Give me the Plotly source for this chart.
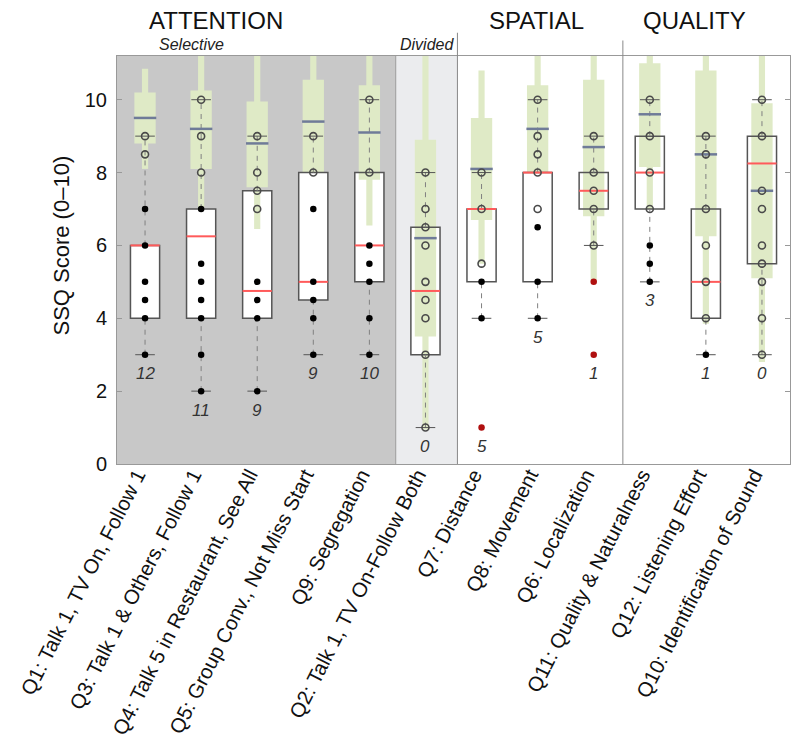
import plotly.graph_objects as go

categories = [
    "Q1: Talk 1, TV On, Follow 1",
    "Q3: Talk 1 & Others, Follow 1",
    "Q4: Talk 5 in Restaurant, See All",
    "Q5: Group Conv., Not Miss Start",
    "Q9: Segregation",
    "Q2: Talk 1, TV On-Follow Both",
    "Q7: Distance",
    "Q8: Movement",
    "Q6: Localization",
    "Q11: Quality & Naturalness",
    "Q12: Listening Effort",
    "Q10: Identificaiton of Sound",
]

# normative (green) distributions
norm_lo = [8.1, 7.05, 6.45, 8.0, 6.55, 0.95, 5.5, 8.0, 5.0, 7.0, 3.85, 2.8]
norm_q1 = [8.8, 8.1, 7.6, 8.0, 7.8, 3.5, 6.7, 8.0, 6.8, 8.15, 6.25, 5.1]
norm_med = [9.5, 9.2, 8.8, 9.4, 9.1, 6.2, 8.1, 9.2, 8.7, 9.6, 8.5, 7.5]
norm_q3 = [10.2, 10.25, 9.95, 10.55, 10.4, 8.9, 9.5, 10.4, 10.55, 11.0, 10.8, 9.9]
norm_hi = [10.85, 12, 12, 12, 12, 12, 10.8, 12, 12, 12, 12, 12]

# patient boxes
p_q1 = [4, 4, 4, 4.5, 5, 3, 5, 5, 7, 7, 4, 5.5]
p_med = [6, 6.25, 4.75, 5, 6, 4.75, 7, 8, 7.5, 8, 5, 8.25]
p_q3 = [6, 7, 7.5, 8, 8, 6.5, 7, 8, 8, 9, 7, 9]
wh_lo = [3, 2, 2, 3, 3, 1, 4, 4, 6, 5, 3, 3]
wh_hi = [9, 10, 9, 9, 10, 8, 8, 10, 9, 10, 9, 10]

open_pts = [
    [8.5, 9], [8, 9, 10], [7, 7.5, 8, 9], [8, 9], [8, 10],
    [1, 3, 4, 4.5, 5, 6, 6.5, 7, 8], [5.5, 7, 8], [7, 8, 8.5, 9, 10],
    [6, 7, 7.5, 8, 9], [7, 8, 9, 10], [4, 5, 6, 7, 8.5, 9],
    [3, 4, 5, 5.5, 6, 7, 7.5, 9, 10],
]
filled_pts = [
    [3, 4, 4.5, 5, 6, 7], [2, 3, 4, 4.5, 5, 5.5, 7], [2, 4, 4.5, 5],
    [3, 4, 4.5, 5, 7], [3, 4, 5, 5.5, 6], [], [4, 5], [4, 5, 6.5], [],
    [5, 5.5, 6], [3], [],
]
outlier_pts = [[], [], [], [], [], [], [1], [], [3, 5], [], [], []]
counts = [12, 11, 9, 9, 10, 0, 5, 5, 1, 3, 1, 0]

groups = ["ATTENTION", "SPATIAL", "QUALITY"]
subgroups = ["Selective", "Divided"]

FONT = "Liberation Sans, Arial, Helvetica, sans-serif"
GREEN = "#dfeac6"
x = list(range(len(categories)))
n = len(categories)

fig = go.Figure()

# white patient boxes (fill)
fig.add_bar(x=x, base=p_q1, y=[b - a for a, b in zip(p_q1, p_q3)], width=0.52,
            marker=dict(color="white", line=dict(width=0)), hoverinfo="skip")
# green normative ranges
fig.add_bar(x=x, base=norm_lo, y=[b - a for a, b in zip(norm_lo, norm_hi)], width=0.11,
            marker=dict(color=GREEN, line=dict(width=0)), hoverinfo="skip")
fig.add_bar(x=x, base=norm_q1, y=[b - a for a, b in zip(norm_q1, norm_q3)], width=0.38,
            marker=dict(color=GREEN, line=dict(width=0)), hoverinfo="skip")

# whiskers
wx, wy = [], []
for i in x:
    wx += [i, i, None, i, i, None]
    wy += [wh_lo[i], p_q1[i], None, p_q3[i], wh_hi[i], None]
fig.add_scatter(x=wx, y=wy, mode="lines", line=dict(color="#808080", width=1, dash="5px,5px"),
                hoverinfo="skip")

# box outlines
fig.add_bar(x=x, base=p_q1, y=[b - a for a, b in zip(p_q1, p_q3)], width=0.52,
            marker=dict(color="rgba(0,0,0,0)", line=dict(color="#555555", width=1.5)),
            hoverinfo="skip")

# normative medians
bx, by = [], []
for i in x:
    bx += [i - 0.2, i + 0.2, None]
    by += [norm_med[i], norm_med[i], None]
fig.add_scatter(x=bx, y=by, mode="lines", line=dict(color="#6f7b98", width=2.5), hoverinfo="skip")

# patient medians
rx, ry = [], []
for i in x:
    rx += [i - 0.26, i + 0.26, None]
    ry += [p_med[i], p_med[i], None]
fig.add_scatter(x=rx, y=ry, mode="lines", line=dict(color="#ff5a5a", width=2), hoverinfo="skip")

# whisker caps
fig.add_scatter(x=x + x, y=wh_lo + wh_hi, mode="markers",
                marker=dict(symbol="line-ew", size=14, color="#555555",
                            line=dict(color="#555555", width=1)),
                hoverinfo="skip")

# points
ox = [i for i in x for _ in open_pts[i]]
oy = [v for i in x for v in open_pts[i]]
fig.add_scatter(x=ox, y=oy, mode="markers",
                marker=dict(symbol="circle-open", size=7, color="#4a4a4a",
                            line=dict(color="#4a4a4a", width=1.6)),
                hoverinfo="skip")
fx = [i for i in x for _ in filled_pts[i]]
fy = [v for i in x for v in filled_pts[i]]
fig.add_scatter(x=fx, y=fy, mode="markers", marker=dict(symbol="circle", size=6.5, color="black"),
                hoverinfo="skip")
rx2 = [i for i in x for _ in outlier_pts[i]]
ry2 = [v for i in x for v in outlier_pts[i]]
fig.add_scatter(x=rx2, y=ry2, mode="markers", marker=dict(symbol="circle", size=6.5, color="#b01010"),
                hoverinfo="skip")

# counts
for i in x:
    low = min([wh_lo[i]] + outlier_pts[i])
    fig.add_annotation(x=i, y=low, yshift=-19, text="<i>%d</i>" % counts[i], showarrow=False,
                       xanchor="center", yanchor="middle",
                       font=dict(size=17, color="#333333", family=FONT))

# group regions
sel_end, div_end, spa_end = 4.47, 5.57, 8.52
def px(v):
    return (v + 0.5) / n

shapes = [
    dict(type="rect", xref="x", yref="paper", x0=-0.5, x1=sel_end, y0=0, y1=1,
         fillcolor="#c8c8c8", line=dict(width=0), layer="below"),
    dict(type="rect", xref="x", yref="paper", x0=sel_end, x1=div_end, y0=0, y1=1,
         fillcolor="#ebecee", line=dict(width=0), layer="below"),
    dict(type="line", xref="paper", yref="paper", x0=px(sel_end), x1=px(sel_end), y0=0, y1=1,
         line=dict(color="#999999", width=1), layer="below"),
    dict(type="line", xref="paper", yref="paper", x0=px(div_end), x1=px(div_end), y0=0, y1=1.057,
         line=dict(color="#888888", width=1)),
    dict(type="line", xref="paper", yref="paper", x0=px(spa_end), x1=px(spa_end), y0=0, y1=1.038,
         line=dict(color="#888888", width=1)),
]

annos = [
    dict(text=groups[0], x=0.147, y=1.088),
    dict(text=groups[1], x=0.623, y=1.088),
    dict(text=groups[2], x=0.858, y=1.088),
]
for a in annos:
    fig.add_annotation(xref="paper", yref="paper", x=a["x"], y=a["y"], text=a["text"],
                       showarrow=False, xanchor="center", yanchor="middle", borderpad=0,
                       font=dict(size=24, color="#111111", family=FONT))
fig.add_annotation(xref="paper", yref="paper", x=0.111, y=1.028, text="<i>%s</i>" % subgroups[0],
                   showarrow=False, xanchor="center", yanchor="middle", borderpad=0,
                   font=dict(size=16, color="#222222", family=FONT))
fig.add_annotation(xref="paper", yref="paper", x=0.461, y=1.028, text="<i>%s</i>" % subgroups[1],
                   showarrow=False, xanchor="center", yanchor="middle", borderpad=0,
                   font=dict(size=16, color="#222222", family=FONT))
fig.add_annotation(xref="paper", yref="paper", x=-0.082, y=0.535, text="SSQ Score (0–10)",
                   textangle=-90, showarrow=False, xanchor="center", yanchor="middle",
                   font=dict(size=22, color="#111111", family=FONT))

fig.update_layout(
    width=800, height=756,
    margin=dict(l=109, r=18, t=48, b=300),
    plot_bgcolor="white", paper_bgcolor="white",
    barmode="overlay", showlegend=False,
    shapes=shapes,
    font=dict(family=FONT, color="#111111"),
    xaxis=dict(range=[-0.5, n - 0.5], tickvals=x, ticktext=categories, tickangle=-63,
               tickfont=dict(size=20.5, family=FONT, color="#111111"),
               ticklabelstandoff=-10, ticklabelshift=-8, ticklabeloverflow="allow",
               automargin=False,
               showgrid=False, zeroline=False, showline=True, mirror=True,
               linecolor="#999999", linewidth=1, ticks=""),
    yaxis=dict(range=[0, 11.2], tickvals=[0, 2, 4, 6, 8, 10], showgrid=False, zeroline=False,
               showline=True, mirror="ticks", linecolor="#999999", linewidth=1,
               ticks="inside", ticklen=5, tickcolor="#999999", ticklabelstandoff=5,
               automargin=False,
               tickfont=dict(size=20, family=FONT, color="#111111")),
)

fig.write_html("out.html")
